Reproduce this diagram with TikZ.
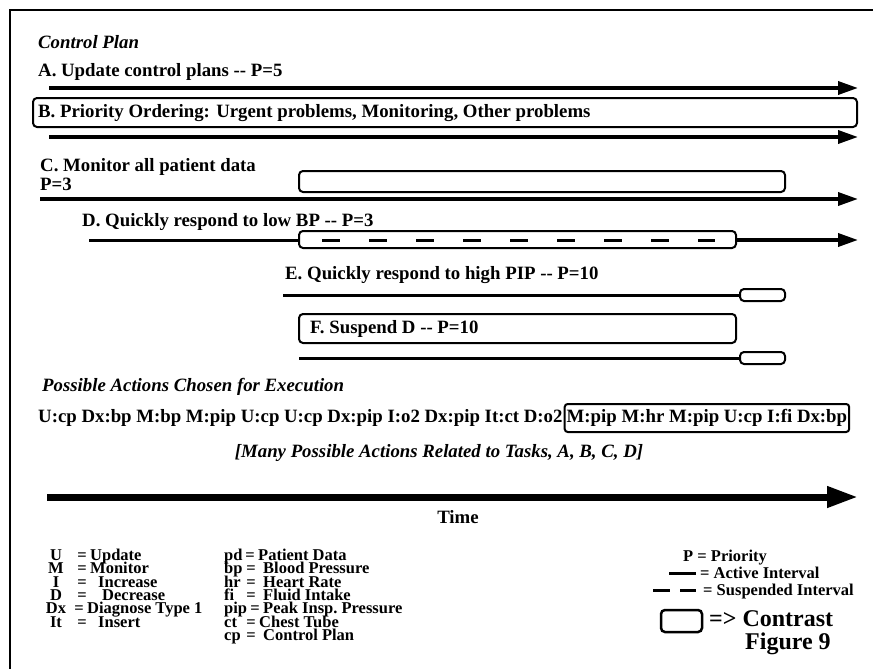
\documentclass[tikz,border=0pt]{standalone}
\usepackage{fontspec}
\setmainfont{Liberation Serif}
\usetikzlibrary{arrows.meta, positioning}

\begin{document}
\begin{tikzpicture}[
  x=1pt, y=-1pt,
  lbl/.style={anchor=west, inner sep=0pt, font=\fontsize{18.8}{20}\selectfont\bfseries},
  ttl/.style={lbl, font=\fontsize{18.8}{20}\selectfont\bfseries\itshape},
  key/.style={anchor=base, inner sep=0pt, font=\fontsize{16.5}{17}\selectfont\bfseries},
  keyw/.style={key, anchor=base west},
  big/.style={anchor=base west, inner sep=0pt, font=\fontsize{24}{26}\selectfont\bfseries},
  tbox/.style={draw, line width=2pt, rounded corners=4pt},
  active/.style={line width=3pt},
  busy/.style={line width=3.5pt, -{Triangle[length=20pt, width=13pt]}},
  pause/.style={line width=3pt, dash pattern=on 18pt off 29pt},
  timeline/.style={line width=7pt, -{Triangle[length=31pt, width=20pt]}},
]
  \useasboundingbox (0,0) rectangle (873,669);
  \draw[line width=2.5pt] (10,669) -- (10,10) -- (873,10);

  % control plan
  \node[ttl] (plan) at (38,42) {Control Plan};
  \node[lbl] (taskA) at (38,72) {A. Update control plans -{}- P=5};
  \draw[busy] (49,88) -- (858,88);
  \draw[tbox] (33,98) rectangle (857,127);
  \node[lbl] (taskB) at (38,113) {B. Priority Ordering: Urgent problems, Monitoring, Other problems};
  \draw[busy] (49,137) -- (858,137);

  \node[lbl] (taskC) at (40,167) {C. Monitor all patient data};
  \node[lbl] (prioC) at (40,184) {P=3};
  \draw[tbox] (299,171) rectangle (785,192);
  \draw[busy] (40,199) -- (858,199);

  \node[lbl] (taskD) at (82,222) {D. Quickly respond to low BP -{}- P=3};
  \draw[active] (89,240) -- (299,240);
  \draw[tbox] (299,231) rectangle (736,248);
  \draw[pause] (322,240) -- (715,240);
  \draw[busy] (736,240) -- (858,240);

  \node[lbl] (taskE) at (285,275) {E. Quickly respond to high PIP -{}- P=10};
  \draw[active] (283,295) -- (740,295);
  \draw[tbox] (740,289) rectangle (785,301);

  \draw[tbox] (299,314) rectangle (736,343);
  \node[lbl] (taskF) at (310,329) {F. Suspend D -{}- P=10};
  \draw[active] (299,358) -- (740,358);
  \draw[tbox] (740,352) rectangle (785,364);

  % actions
  \node[ttl] (chosen) at (42,387) {Possible Actions Chosen for Execution};
  \node[lbl] (acts) at (38,418) {U:cp Dx:bp M:bp M:pip U:cp U:cp Dx:pip I:o2 Dx:pip It:ct D:o2};
  \node[lbl, draw, line width=2pt, rounded corners=3pt, inner xsep=2pt,
        minimum height=28pt, right=1pt of acts] (actsbox) {M:pip M:hr M:pip U:cp I:fi Dx:bp};
  \node[ttl, anchor=center] (many) at (439,453) {[Many Possible Actions Related to Tasks, A, B, C, D]};

  \draw[timeline] (47,497) -- (858,497);
  \node[lbl, anchor=center] (time) at (458,517) {Time};

  % legend
  \foreach \sym/\ex/\desc/\dx/\y in {U/82/Update/90/560, M/82/Monitor/90/573,
      I/82/Increase/98/587, D/82/Decrease/102/600, Dx/79/Diagnose Type 1/87/613,
      It/82/Insert/98/627} {
    \node[key] (ab\y) at (56,\y) {\sym};
    \node[key] (eq\y) at (\ex,\y) {=};
    \node[keyw] (ds\y) at (\dx,\y) {\desc};
  }
  \foreach \sym/\ex/\desc/\dx/\y in {pd/250/Patient Data/258/560, bp/251/Blood Pressure/263/573,
      hr/251/Heart Rate/263/587, fi/251/Fluid Intake/263/600,
      pip/255/Peak Insp.\ Pressure/263/613, ct/251/Chest Tube/259/627,
      cp/251/Control Plan/263/640} {
    \node[keyw] (vb\y) at (224,\y) {\sym};
    \node[key] (ve\y) at (\ex,\y) {=};
    \node[keyw] (vd\y) at (\dx,\y) {\desc};
  }

  \node[key] (prio) at (725,561) {P = Priority};
  \draw[active] (669,573) -- (696,573);
  \node[keyw] (actv) at (700,578) {= Active Interval};
  \draw[line width=3pt, dash pattern=on 17pt off 10pt] (653,590) -- (696,590);
  \node[keyw] (susp) at (703,595) {= Suspended Interval};
  \draw[tbox, line width=2.5pt] (661,610) rectangle (702,632);
  \node[big] (contr) at (709,626) {=> Contrast};
  \node[big] (fig) at (745,649) {Figure 9};
\end{tikzpicture}
\end{document}
